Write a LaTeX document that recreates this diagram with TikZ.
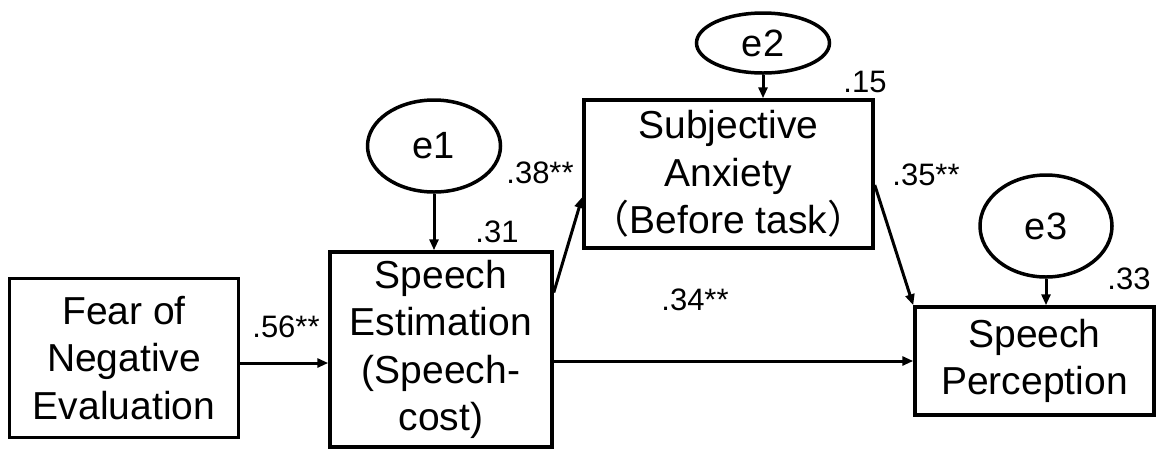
\documentclass[tikz,border=0pt]{standalone}
\usepackage{fontspec}
\setmainfont{Liberation Sans}
\newfontfamily\cjk{Noto Sans CJK JP}
\usetikzlibrary{shapes.geometric,arrows.meta,positioning,calc}

\begin{document}
\begin{tikzpicture}[x=1pt, y=1pt,
  box/.style={draw, rectangle, line width=3.5pt, inner sep=0pt, align=center, font=\fontsize{39}{47.5}\selectfont},
  err/.style={draw, ellipse, line width=3.5pt, inner sep=0pt, font=\fontsize{38}{44}\selectfont},
  coef/.style={inner sep=0pt, font=\fontsize{31}{36}\selectfont},
  arr/.style={line width=3pt, -{Triangle[length=11pt,width=9pt]}},
]
\useasboundingbox (0,0) rectangle (1156,-451);
% observed variables
\node[box, minimum width=229pt, minimum height=159pt] (fne) at (124,-358) {Fear of\\Negative\\Evaluation};
\node[box, minimum width=222pt, minimum height=195pt] (se) at (441,-349.5) {Speech\\Estimation\\(Speech-\\cost)};
\node[box, minimum width=289pt, minimum height=148pt] (sa) at (728.5,-174) {Subjective\\Anxiety\\{\cjk （}Before task{\cjk ）}};
\node[box, minimum width=239pt, minimum height=108pt] (sp) at (1034.5,-361) {Speech\\Perception};
% error terms
\node[err, minimum width=133pt, minimum height=92pt] (e1) at (434,-146) {e1};
\node[err, minimum width=133pt, minimum height=60pt] (e2) at (763,-43) {e2};
\node[err, minimum width=132pt, minimum height=102pt] (e3) at (1046,-226) {e3};
% paths
\draw[arr] ([yshift=-5pt]fne.east) -- ([yshift=-5pt]fne.east -| se.west);
\draw[arr] ([yshift=57pt]se.east) -- ([yshift=-23pt]sa.west);
\draw[arr] ([yshift=-11pt]sa.east) -- (sp.north west);
\draw[arr] (se.east |- sp.west) -- (sp.west);
\draw[arr] (e1.south) -- (e1.south |- se.north);
\draw[arr] (e2.south) -- (e2.south |- sa.north);
\draw[arr] (e3.south) -- (e3.south |- sp.north);
% coefficients
\node[coef] (c56) at (286,-327) {.56**};
\node[coef] (c38) at (540,-173) {.38**};
\node[coef] (c35) at (926,-175) {.35**};
\node[coef] (c34) at (695,-300) {.34**};
\node[coef] (r31) at (497,-232) {.31};
\node[coef] (r15) at (865,-82) {.15};
\node[coef] (r33) at (1129,-279) {.33};
\end{tikzpicture}
\end{document}
